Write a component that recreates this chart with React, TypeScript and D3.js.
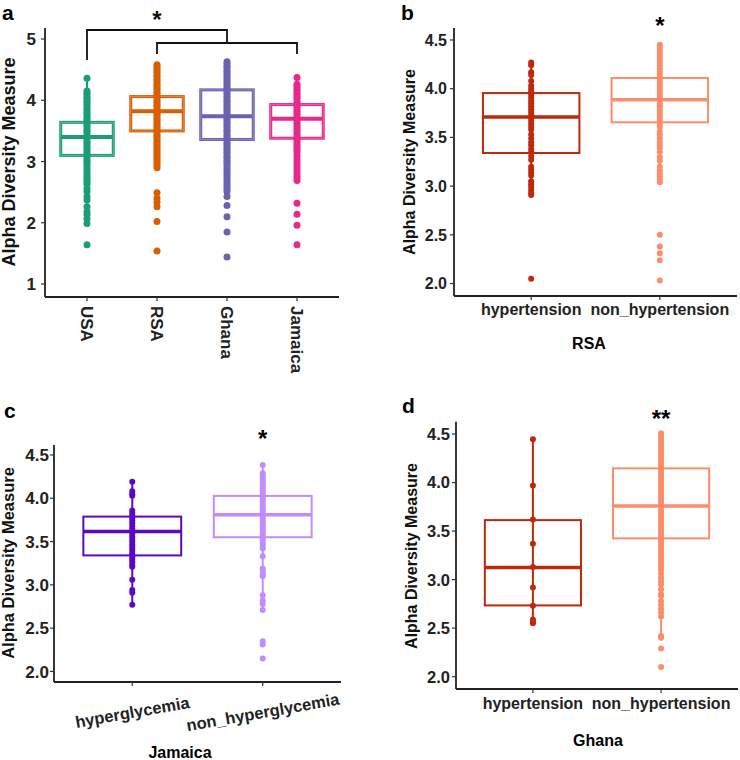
import React from "react";
import * as d3 from "d3";

// ---- panel a: all four countries ----
const countries = ["USA", "RSA", "Ghana", "Jamaica"];
const countryColors = ["#1b9e77", "#d95f02", "#6b63b0", "#e7298a"];
const countryQ1 = [3.1, 3.5, 3.36, 3.38];
const countryMedian = [3.4, 3.82, 3.74, 3.7];
const countryQ3 = [3.64, 4.06, 4.17, 3.93];
const countryLow = [2.63, 2.9, 2.51, 2.69];
const countryHigh = [4.36, 4.58, 4.63, 4.37];
const usaPoints = [4.36, 4.15, 4.12, 4.09, 4.05, 4.02, 3.98, 3.95, 3.91, 3.87, 3.84, 3.8, 3.77, 3.73, 3.7, 3.66, 3.62, 3.59, 3.55, 3.51, 3.48, 3.44, 3.41, 3.37, 3.33, 3.3, 3.26, 3.22, 3.19, 3.15, 3.11, 3.08, 3.04, 3.0, 2.97, 2.93, 2.89, 2.85, 2.81, 2.77, 2.73, 2.7, 2.66, 2.63, 2.56, 2.51, 2.43, 2.37, 2.26, 2.18, 2.13, 2.06, 1.99, 1.64];
const rsaPoints = [4.58, 4.55, 4.52, 4.48, 4.45, 4.41, 4.38, 4.34, 4.31, 4.27, 4.24, 4.2, 4.17, 4.13, 4.1, 4.06, 4.03, 3.99, 3.96, 3.92, 3.89, 3.85, 3.82, 3.78, 3.75, 3.71, 3.68, 3.64, 3.61, 3.57, 3.54, 3.5, 3.47, 3.43, 3.4, 3.36, 3.33, 3.29, 3.26, 3.22, 3.19, 3.15, 3.12, 3.08, 3.05, 3.01, 2.98, 2.94, 2.9, 2.49, 2.4, 2.34, 2.26, 2.02, 1.54];
const ghanaPoints = [4.63, 4.6, 4.56, 4.53, 4.49, 4.46, 4.42, 4.39, 4.35, 4.32, 4.28, 4.25, 4.21, 4.18, 4.14, 4.11, 4.07, 4.04, 4.0, 3.97, 3.93, 3.9, 3.86, 3.83, 3.79, 3.76, 3.72, 3.69, 3.65, 3.62, 3.58, 3.55, 3.51, 3.48, 3.44, 3.41, 3.37, 3.34, 3.3, 3.27, 3.23, 3.2, 3.16, 3.13, 3.09, 3.06, 3.02, 2.99, 2.95, 2.91, 2.87, 2.83, 2.79, 2.75, 2.71, 2.67, 2.63, 2.59, 2.55, 2.51, 2.43, 2.28, 2.1, 1.85, 1.44];
const jamaicaPoints = [4.37, 4.26, 4.23, 4.19, 4.16, 4.12, 4.09, 4.05, 4.02, 3.98, 3.95, 3.91, 3.88, 3.84, 3.81, 3.77, 3.74, 3.7, 3.67, 3.63, 3.6, 3.56, 3.53, 3.49, 3.46, 3.42, 3.39, 3.35, 3.32, 3.28, 3.25, 3.21, 3.18, 3.14, 3.08, 3.03, 2.98, 2.93, 2.88, 2.83, 2.78, 2.74, 2.69, 2.32, 2.14, 1.96, 1.64];
const countryTicks = [1, 2, 3, 4, 5];

// ---- panel b: RSA hypertension ----
const htnGroups = ["hypertension", "non_hypertension"];
const htnColors = ["#c0280c", "#fc8d6a"];
const rsaQ1 = [3.34, 3.655];
const rsaMedian = [3.71, 3.887];
const rsaQ3 = [3.955, 4.11];
const rsaLow = [2.91, 3.04];
const rsaHigh = [4.27, 4.45];
const rsaHtnPoints = [4.27, 4.24, 4.17, 4.14, 4.08, 4.03, 4.0, 3.97, 3.94, 3.91, 3.88, 3.85, 3.82, 3.79, 3.76, 3.73, 3.7, 3.67, 3.64, 3.61, 3.58, 3.53, 3.49, 3.45, 3.42, 3.38, 3.35, 3.31, 3.27, 3.2, 3.17, 3.14, 3.11, 3.05, 3.02, 2.99, 2.96, 2.93, 2.91, 2.05];
const rsaNonPoints = [4.45, 4.42, 4.39, 4.36, 4.33, 4.3, 4.27, 4.24, 4.21, 4.18, 4.15, 4.12, 4.09, 4.06, 4.03, 4.0, 3.97, 3.94, 3.91, 3.88, 3.85, 3.82, 3.79, 3.76, 3.73, 3.7, 3.67, 3.64, 3.61, 3.56, 3.53, 3.49, 3.45, 3.42, 3.39, 3.35, 3.3, 3.26, 3.2, 3.16, 3.13, 3.1, 3.07, 3.04, 2.5, 2.38, 2.31, 2.24, 2.03];

// ---- panel c: Jamaica hyperglycemia ----
const glyGroups = ["hyperglycemia", "non_hyperglycemia"];
const glyColors = ["#5a08c6", "#c08cff"];
const jamQ1 = [3.34, 3.55];
const jamMedian = [3.615, 3.81];
const jamQ3 = [3.788, 4.027];
const jamLow = [2.77, 2.7];
const jamHigh = [4.19, 4.385];
const jamGlyPoints = [4.19, 4.08, 4.05, 4.03, 3.86, 3.83, 3.8, 3.77, 3.74, 3.71, 3.68, 3.65, 3.62, 3.59, 3.56, 3.53, 3.5, 3.47, 3.44, 3.41, 3.38, 3.35, 3.32, 3.29, 3.26, 3.23, 3.21, 3.06, 2.94, 2.91, 2.77];
const jamNonPoints = [4.385, 4.29, 4.26, 4.23, 4.2, 4.17, 4.14, 4.11, 4.08, 4.05, 4.02, 3.99, 3.96, 3.93, 3.9, 3.87, 3.84, 3.81, 3.78, 3.75, 3.72, 3.69, 3.66, 3.63, 3.6, 3.57, 3.54, 3.51, 3.48, 3.45, 3.42, 3.33, 3.19, 3.16, 3.12, 3.1, 2.88, 2.82, 2.78, 2.71, 2.35, 2.31, 2.15];

// ---- panel d: Ghana hypertension ----
const ghaQ1 = [2.734, 3.425];
const ghaMedian = [3.126, 3.758];
const ghaQ3 = [3.613, 4.146];
const ghaLow = [2.55, 2.41];
const ghaHigh = [4.445, 4.507];
const ghaHtnPoints = [4.445, 3.97, 3.62, 3.37, 3.13, 2.92, 2.73, 2.59, 2.565, 2.55];
const ghaNonPoints = [4.507, 4.48, 4.45, 4.42, 4.39, 4.36, 4.33, 4.3, 4.27, 4.24, 4.21, 4.18, 4.15, 4.12, 4.09, 4.06, 4.03, 4.0, 3.97, 3.94, 3.91, 3.88, 3.85, 3.82, 3.79, 3.76, 3.73, 3.7, 3.67, 3.64, 3.61, 3.58, 3.55, 3.52, 3.49, 3.46, 3.43, 3.4, 3.37, 3.34, 3.31, 3.28, 3.25, 3.22, 3.19, 3.16, 3.13, 3.1, 3.06, 3.02, 2.98, 2.95, 2.9, 2.85, 2.83, 2.78, 2.74, 2.7, 2.66, 2.62, 2.42, 2.4, 2.29, 2.1];

const halfTicks = [2.0, 2.5, 3.0, 3.5, 4.0, 4.5];

const FONT = "'Liberation Sans', Arial, Helvetica, sans-serif";

interface PanelProps {
  letter: string;
  letterX: number;
  letterY: number;
  cats: string[];
  colors: string[];
  q1: number[];
  med: number[];
  q3: number[];
  low: number[];
  high: number[];
  points: number[][];
  yDomain: [number, number];
  yTicks: number[];
  fmt: (v: number) => string;
  left: number;
  right: number;
  top: number;
  bottom: number;
  r: number;
  tickFont: number;
  tickGap: number;
  yLabelX: number;
  yLabelY: number;
  yLabelFont: number;
  xLabelMode: "vertical" | "flat" | "tilt";
  xLabelY: number;
  xLabelFont: number;
  title?: string;
  titleX?: number;
  titleY?: number;
  double?: boolean;
  stars?: { text: string; idx: number; y: number }[];
}

function Panel(p: PanelProps) {
  const y = d3.scaleLinear().domain(p.yDomain).range([p.bottom, p.top]);
  const x = d3
    .scaleBand<string>()
    .domain(p.cats)
    .range([p.left, p.right])
    .paddingInner(0)
    .paddingOuter(0.1);
  const cx = (c: string) => (x(c) ?? 0) + x.bandwidth() / 2;
  const bw = x.step() * 0.75;

  return (
    <g fontFamily={FONT}>
      <text x={p.letterX} y={p.letterY} fontSize={21} fontWeight="bold">
        {p.letter}
      </text>

      {p.cats.map((c, i) => {
        const xc = cx(c);
        const col = p.colors[i];
        return (
          <g key={c}>
            <line x1={xc} x2={xc} y1={y(p.low[i])} y2={y(p.high[i])} stroke={col} strokeWidth={2} />
            <rect
              x={xc - bw / 2}
              y={y(p.q3[i])}
              width={bw}
              height={y(p.q1[i]) - y(p.q3[i])}
              fill="none"
              stroke={col}
              strokeWidth={p.double ? 3 : 2}
            />
            <line
              x1={xc - bw / 2}
              x2={xc + bw / 2}
              y1={y(p.med[i])}
              y2={y(p.med[i])}
              stroke={col}
              strokeWidth={p.double ? 4 : 3.5}
            />
            {p.double && (
              <rect
                x={xc - bw / 2}
                y={y(p.q3[i])}
                width={bw}
                height={y(p.q1[i]) - y(p.q3[i])}
                fill="none"
                stroke="#fff"
                strokeOpacity={0.3}
                strokeWidth={0.8}
              />
            )}
            {p.points[i].map((v, j) => (
              <circle key={j} cx={xc} cy={y(v)} r={p.r} fill={col} />
            ))}
          </g>
        );
      })}

      {/* axes */}
      <line x1={p.left} x2={p.left} y1={p.top} y2={p.bottom} stroke="#222" strokeWidth={1.8} />
      <line x1={p.left} x2={p.right} y1={p.bottom} y2={p.bottom} stroke="#222" strokeWidth={1.8} />
      {p.yTicks.map((t) => (
        <g key={t}>
          <line x1={p.left - 4} x2={p.left} y1={y(t)} y2={y(t)} stroke="#333" strokeWidth={1.2} />
          <text
            x={p.left - p.tickGap}
            y={y(t)}
            dy="0.36em"
            textAnchor="end"
            fontSize={p.tickFont}
            fontWeight="bold"
            fill="#222"
          >
            {p.fmt(t)}
          </text>
        </g>
      ))}
      {p.cats.map((c) => {
        const xc = cx(c);
        let label;
        if (p.xLabelMode === "vertical") {
          label = (
            <text
              transform={`translate(${xc},${p.xLabelY}) rotate(90)`}
              dy="0.36em"
              fontSize={p.xLabelFont}
              fontWeight="bold"
              fill="#222"
            >
              {c}
            </text>
          );
        } else if (p.xLabelMode === "tilt") {
          label = (
            <text
              transform={`translate(${xc},${p.xLabelY}) rotate(-10)`}
              dy="0.36em"
              textAnchor="middle"
              fontSize={p.xLabelFont}
              fontWeight="bold"
              fill="#222"
            >
              {c}
            </text>
          );
        } else {
          label = (
            <text
              x={xc}
              y={p.xLabelY}
              dy="0.36em"
              textAnchor="middle"
              fontSize={p.xLabelFont}
              fontWeight="bold"
              fill="#222"
            >
              {c}
            </text>
          );
        }
        return (
          <g key={c}>
            <line x1={xc} x2={xc} y1={p.bottom} y2={p.bottom + 4} stroke="#333" strokeWidth={1.2} />
            {label}
          </g>
        );
      })}

      <text
        transform={`translate(${p.yLabelX},${p.yLabelY}) rotate(-90)`}
        dy="0.36em"
        textAnchor="middle"
        fontSize={p.yLabelFont}
        fontWeight="bold"
        fill="#111"
      >
        Alpha Diversity Measure
      </text>
      {p.title && (
        <text x={p.titleX} y={p.titleY} dy="0.36em" textAnchor="middle" fontSize={16} fontWeight="bold">
          {p.title}
        </text>
      )}
      {p.stars?.map((s) => (
        <text key={s.idx} x={cx(p.cats[s.idx])} y={s.y} textAnchor="middle" fontSize={24} fontWeight="bold">
          {s.text}
        </text>
      ))}
    </g>
  );
}

function Brackets() {
  const x = d3
    .scaleBand<string>()
    .domain(countries)
    .range([45, 339])
    .paddingInner(0)
    .paddingOuter(0.1);
  const cx = (c: string) => (x(c) ?? 0) + x.bandwidth() / 2;
  const path1 = `M${cx("USA")},60 V30 H${cx("Ghana")} V43`;
  const path2 = `M${cx("RSA")},54 V43 H${cx("Jamaica")} V54`;
  return (
    <g fill="none" stroke="#111" strokeWidth={1.8}>
      <path d={path1} />
      <path d={path2} />
      <text
        x={(cx("USA") + cx("Ghana")) / 2}
        y={28}
        textAnchor="middle"
        fontSize={24}
        fontWeight="bold"
        fontFamily={FONT}
        fill="#111"
        stroke="none"
      >
        *
      </text>
    </g>
  );
}

export default function App() {
  const f1 = d3.format("d");
  const f2 = d3.format(".1f");
  return (
    <svg
      width={740}
      height={760}
      style={{ position: "absolute", left: 0, top: 0, background: "#fff" }}
    >
      <rect width={740} height={760} fill="#fff" />
      <Panel
        letter="a"
        letterX={2}
        letterY={20}
        cats={countries}
        colors={countryColors}
        q1={countryQ1}
        med={countryMedian}
        q3={countryQ3}
        low={countryLow}
        high={countryHigh}
        points={[usaPoints, rsaPoints, ghanaPoints, jamaicaPoints]}
        yDomain={[0.788, 5.18]}
        yTicks={countryTicks}
        fmt={f1}
        left={45}
        right={339}
        top={28}
        bottom={297}
        r={3.5}
        tickFont={17}
        tickGap={9}
        yLabelX={9}
        yLabelY={162}
        yLabelFont={18}
        xLabelMode="vertical"
        xLabelY={306}
        xLabelFont={17}
        double
      />
      <Brackets />
      <Panel
        letter="b"
        letterX={401}
        letterY={20}
        cats={htnGroups}
        colors={htnColors}
        q1={rsaQ1}
        med={rsaMedian}
        q3={rsaQ3}
        low={rsaLow}
        high={rsaHigh}
        points={[rsaHtnPoints, rsaNonPoints]}
        yDomain={[1.872, 4.623]}
        yTicks={halfTicks}
        fmt={f2}
        left={454}
        right={737}
        top={28}
        bottom={296}
        r={3}
        tickFont={16}
        tickGap={7}
        yLabelX={409}
        yLabelY={162}
        yLabelFont={16}
        xLabelMode="flat"
        xLabelY={309}
        xLabelFont={16}
        title="RSA"
        titleX={589}
        titleY={343}
        stars={[{ text: "*", idx: 1, y: 34 }]}
      />
      <Panel
        letter="c"
        letterX={4}
        letterY={418}
        cats={glyGroups}
        colors={glyColors}
        q1={jamQ1}
        med={jamMedian}
        q3={jamQ3}
        low={jamLow}
        high={jamHigh}
        points={[jamGlyPoints, jamNonPoints]}
        yDomain={[1.878, 4.615]}
        yTicks={halfTicks}
        fmt={f2}
        left={54}
        right={341}
        top={445}
        bottom={682}
        r={3}
        tickFont={17}
        tickGap={5}
        yLabelX={8}
        yLabelY={563}
        yLabelFont={16.5}
        xLabelMode="tilt"
        xLabelY={712}
        xLabelFont={16.5}
        title="Jamaica"
        titleX={180}
        titleY={752}
        stars={[{ text: "*", idx: 1, y: 447 }]}
      />
      <Panel
        letter="d"
        letterX={402}
        letterY={413}
        cats={htnGroups}
        colors={htnColors}
        q1={ghaQ1}
        med={ghaMedian}
        q3={ghaQ3}
        low={ghaLow}
        high={ghaHigh}
        points={[ghaHtnPoints, ghaNonPoints]}
        yDomain={[1.873, 4.627]}
        yTicks={halfTicks}
        fmt={f2}
        left={456}
        right={738}
        top={421.7}
        bottom={689}
        r={3}
        tickFont={16.5}
        tickGap={6}
        yLabelX={411}
        yLabelY={556}
        yLabelFont={16}
        xLabelMode="flat"
        xLabelY={703}
        xLabelFont={16}
        title="Ghana"
        titleX={598}
        titleY={740}
        stars={[{ text: "**", idx: 1, y: 427 }]}
      />
    </svg>
  );
}
